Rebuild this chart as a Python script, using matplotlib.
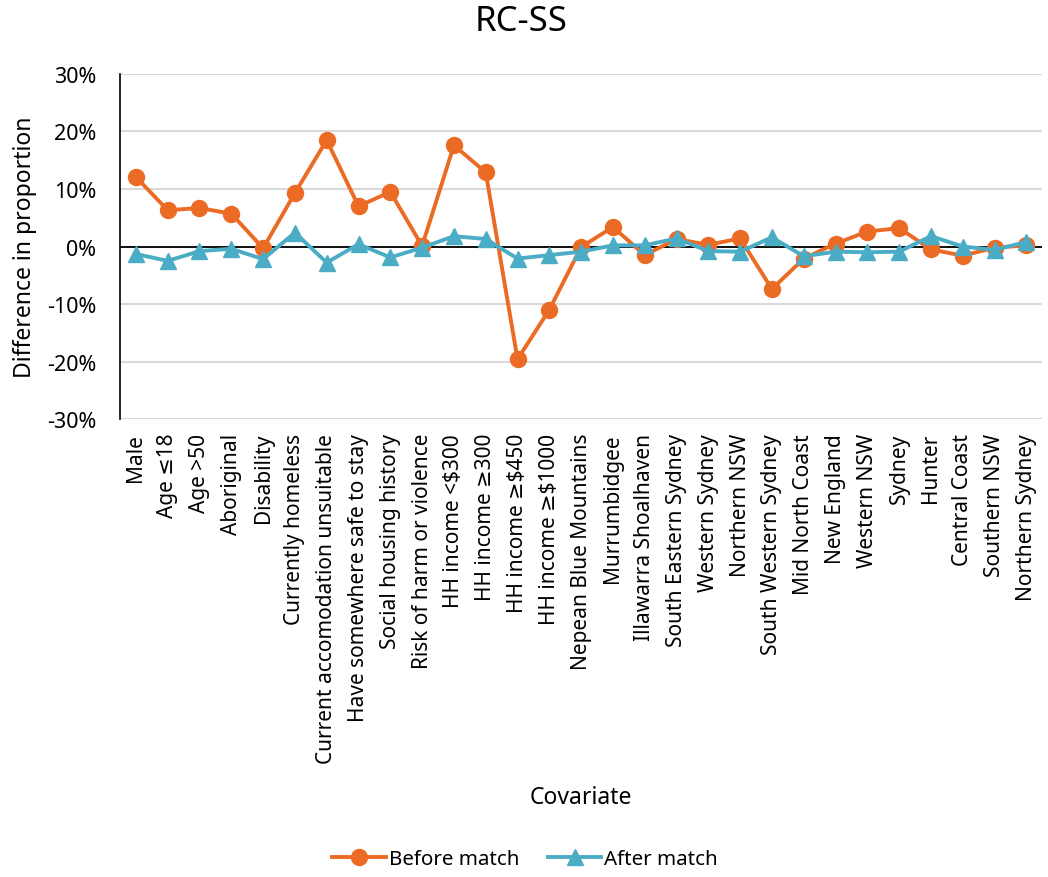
import matplotlib
matplotlib.use("Agg")
import matplotlib.pyplot as plt
from matplotlib.ticker import FuncFormatter, MultipleLocator

plt.rcParams["font.family"] = ["Noto Sans", "DejaVu Sans"]

covariates = [
    "Male", "Age \u226418", "Age >50", "Aboriginal", "Disability",
    "Currently homeless", "Current accomodation unsuitable",
    "Have somewhere safe to stay", "Social housing history",
    "Risk of harm or violence", "HH income <$300", "HH income \u2265300",
    "HH income \u2265$450", "HH income \u2265$1000", "Nepean Blue Mountains",
    "Murrumbidgee", "Illawarra Shoalhaven", "South Eastern Sydney",
    "Western Sydney", "Northern NSW", "South Western Sydney",
    "Mid North Coast", "New England", "Western NSW", "Sydney", "Hunter",
    "Central Coast", "Southern NSW", "Northern Sydney",
]

# differences in proportion, in percent
before_match = [
    12.1, 6.3, 6.7, 5.7, -0.3, 9.3, 18.5, 7.0, 9.5, 0.1,
    17.6, 12.9, -19.6, -11.0, -0.1, 3.4, -1.5, 1.3, 0.3, 1.4,
    -7.4, -2.1, 0.5, 2.6, 3.2, -0.5, -1.6, -0.2, 0.2,
]
after_match = [
    -1.3, -2.5, -0.8, -0.4, -2.2, 2.4, -2.8, 0.4, -1.9, -0.2,
    1.8, 1.3, -2.1, -1.5, -0.9, 0.2, 0.2, 1.4, -0.8, -0.9,
    1.6, -1.7, -0.9, -1.0, -0.9, 1.8, 0.0, -0.6, 0.8,
]

orange = "#EC6B24"
blue = "#4BACC6"

fig = plt.figure(figsize=(10.48, 8.78), dpi=100)
ax = fig.add_axes([0.1145, 0.5216, 0.8800, 0.3930])

x = list(range(len(covariates)))
ax.plot(x, before_match, color=orange, lw=2.8, marker="o", ms=11.5,
        label="Before match", zorder=3)
ax.plot(x, after_match, color=blue, lw=2.8, marker="^", ms=11.5,
        label="After match", zorder=4)

ax.set_ylim(-30, 30)
ax.set_xlim(-0.5, len(covariates) - 0.5)
ax.yaxis.set_major_locator(MultipleLocator(10))
ax.yaxis.set_major_formatter(FuncFormatter(lambda v, _: f"{v:.0f}%"))
ax.grid(axis="y", color="#D9D9D9", lw=1.5, zorder=0)
ax.axhline(0, color="black", lw=1.3, zorder=2)

for side in ["top", "right", "bottom"]:
    ax.spines[side].set_visible(False)
ax.spines["left"].set_color("black")
ax.spines["left"].set_linewidth(1.2)

ax.set_xticks(x)
ax.set_xticklabels(covariates, rotation=90, fontsize=15)
ax.tick_params(axis="x", length=0, pad=10)
ax.tick_params(axis="y", length=0, pad=17, labelsize=15.5)

fig.text(0.497, 0.975, "RC-SS", ha="center", va="center", fontsize=25)
ax.set_ylabel("Difference in proportion", fontsize=16.5, labelpad=7)
ax.set_xlabel("Covariate", fontsize=16.5, labelpad=16)

fig.legend(loc="center", bbox_to_anchor=(0.501, 0.0205), ncol=2,
           frameon=False, fontsize=14.8, handlelength=2.6, columnspacing=1.4,
           handletextpad=0.15)

fig.savefig("out.png", dpi=100)
